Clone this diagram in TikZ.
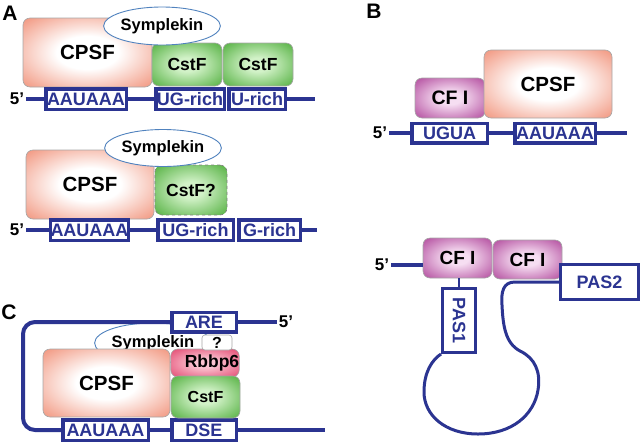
\documentclass[tikz,border=0pt]{standalone}
\usepackage{fontspec}
\setmainfont{Liberation Sans}
\usetikzlibrary{shapes.geometric}
\definecolor{navy}{RGB}{43,52,145}
\definecolor{sympc}{RGB}{80,130,190}
\definecolor{cpsfc}{RGB}{240,138,112}
\definecolor{cstfc}{RGB}{72,170,52}
\definecolor{cstfl}{RGB}{210,242,200}
\definecolor{cfic}{RGB}{172,62,150}
\definecolor{cfil}{RGB}{246,222,242}
\definecolor{rbbc}{RGB}{225,62,105}
\definecolor{rbbl}{RGB}{250,195,208}
\pgfdeclareradialshading{cpsfshade}{\pgfpoint{0bp}{0bp}}{color(0bp)=(white); color(12bp)=(white); color(38bp)=(cpsfc); color(60bp)=(cpsfc)}
\pgfdeclareradialshading{cstfshade}{\pgfpoint{0bp}{0bp}}{color(0bp)=(cstfl); color(8bp)=(cstfl); color(38bp)=(cstfc); color(60bp)=(cstfc)}
\pgfdeclareradialshading{cfishade}{\pgfpoint{0bp}{0bp}}{color(0bp)=(cfil); color(8bp)=(cfil); color(38bp)=(cfic); color(60bp)=(cfic)}
\pgfdeclareradialshading{rbbshade}{\pgfpoint{0bp}{0bp}}{color(0bp)=(rbbl); color(8bp)=(rbbl); color(38bp)=(rbbc); color(60bp)=(rbbc)}
\tikzset{
  sz/.style 2 args={minimum width=#1pt, minimum height=#2pt},
  rna/.style={draw=navy, line width=4pt},
  seqbox/.style={draw=navy, line width=3.5pt, fill=white, text=navy, inner sep=0pt,
    font=\fontsize{18}{18}\selectfont\bfseries},
  prot/.style={draw=gray!70, line width=0.6pt, rounded corners=7pt, inner sep=0pt, shade,
    font=\fontsize{19.5}{19.5}\selectfont\bfseries},
  cpsf/.style={prot, shading=cpsfshade, font=\fontsize{20.5}{20.5}\selectfont\bfseries},
  cstf/.style={prot, shading=cstfshade, font=\fontsize{17.5}{17.5}\selectfont\bfseries},
  cfi/.style={prot, shading=cfishade},
  rbb/.style={prot, shading=rbbshade, font=\fontsize{17.5}{17.5}\selectfont\bfseries},
  symp/.style={ellipse, draw=sympc, line width=0.9pt, fill=white, inner sep=0pt,
    sz={93}{38}, font=\fontsize{16.5}{16.5}\selectfont\bfseries},
  qbox/.style={draw=gray!70, line width=0.6pt, fill=white, rounded corners=3pt, inner sep=0pt,
    font=\fontsize{16}{16}\selectfont\bfseries},
  five/.style={inner sep=2pt, font=\fontsize{17}{17}\selectfont\bfseries},
  panel/.style={inner sep=0pt, font=\fontsize{21}{21}\selectfont\bfseries}
}
\begin{document}
\begin{tikzpicture}[x=1pt,y=-1pt]
\useasboundingbox (0,0) rectangle (642,445);
% A, top
\node[panel] (la) at (10,13) {A};
\node[cpsf, sz={129}{69}] (cpsfa) at (87.5,52.5) {CPSF};
\node[cstf, sz={70}{43}] (cstfa) at (187,64.5) {CstF};
\node[cstf, sz={70}{43}] (cstfb) at (258,64.5) {CstF};
\node[symp] (sympa) at (162,26) {Symplekin};
\node[five] (fa) at (17,99) {5’};
\node[seqbox, sz={80.5}{20.5}] (aaua) at (86,99) {AAUAAA};
\node[seqbox, sz={68.5}{20.5}] (uga) at (190,99) {UG-rich};
\node[seqbox, sz={56.5}{20.5}] (ua) at (257,99) {U-rich};
\coordinate (ea) at (315,99);
\draw[rna] (fa) -- (aaua) (aaua) -- (uga) (ua) -- (ea);
% A, bottom
\node[cpsf, sz={128}{69}] (cpsfb) at (90,184.5) {CPSF};
\node[cstf, dashed, draw=gray, sz={72}{50}] (cstfq) at (191,190) {CstF?};
\node[symp, sz={93}{37}] (sympb) at (163,148) {Symplekin};
\node[five] (fb) at (17,230) {5’};
\node[seqbox, sz={75.5}{20.5}] (aaub) at (89.5,230) {AAUAAA};
\node[seqbox, sz={75.5}{20.5}] (ugb) at (195.5,230) {UG-rich};
\node[seqbox, sz={61.5}{20.5}] (gb) at (269.5,230) {G-rich};
\coordinate (eb) at (317,230);
\draw[rna] (fb) -- (aaub) (aaub) -- (ugb) (gb) -- (eb);
% C
\node[panel] (lc) at (9,312) {C};
\node[symp, sz={93}{40}] (sympc) at (153,343) {Symplekin};
\node[five] (fc) at (286,322) {5’};
\node[seqbox, sz={64.5}{19.5}] (are) at (204,322) {ARE};
\node[seqbox, sz={85.5}{20.5}] (aauc) at (105.5,430) {AAUAAA};
\node[seqbox, sz={64.5}{20.5}] (dse) at (204,430) {DSE};
\coordinate (ctl) at (23,322);
\coordinate (cbl) at (23,430);
\coordinate (ec) at (325,430);
\draw[rna, rounded corners=12pt] (are) -- (ctl) -- (cbl) -- (aauc);
\draw[rna] (fc) -- (are) (aauc) -- (dse) (dse) -- (ec);
\node[cpsf, sz={127}{68}] (cpsfc) at (106.5,383) {CPSF};
\node[rbb, sz={68}{28}] (rbbp) at (205,363) {\hspace*{14pt}\raisebox{-3pt}{Rbbp6}};
\node[cstf, font=\fontsize{16}{16}\selectfont\bfseries, sz={69}{42}] (cstfc) at (205.5,397) {CstF};
\node[qbox, sz={30}{15}] (qm) at (217,342.5) {?};
% B, top
\node[panel] (lb) at (374,11) {B};
\node[cfi, sz={70}{40}] (cfia) at (450,98) {CF I};
\node[cpsf, sz={128}{68}] (cpsfd) at (548,84) {CPSF};
\node[five] (fd) at (380,133) {5’};
\node[seqbox, sz={75.5}{19.5}] (ugua) at (449.5,133) {UGUA};
\node[seqbox, sz={80.5}{19.5}] (aaud) at (555,133) {AAUAAA};
\coordinate (ed) at (627,133);
\draw[rna] (fd) -- (ugua) (ugua) -- (aaud) (aaud) -- (ed);
% B, bottom
\node[cfi, font=\fontsize{19}{19}\selectfont\bfseries, sz={69}{40}] (cfib) at (457.5,258) {CF I};
\node[cfi, font=\fontsize{19}{19}\selectfont\bfseries, sz={69}{39}] (cfic) at (527.5,259.5) {CF I};
\node[five] (fe) at (382,265) {5’};
\draw[rna] (fe) -- (fe -| cfib.west);
\node[seqbox, line width=3pt, rotate=-90, sz={64}{33}] (pas1) at (459,320.5) {PAS1};
\node[seqbox, line width=3pt, sz={78}{35}] (pas2) at (599.5,282) {PAS2};
\draw[navy, line width=2pt] (cfib.south -| pas1.center) -- (pas1.west);
\draw[navy, line width=3pt] (pas2.west) -- (515,282)
  .. controls (503,282) and (501,292) .. (502,305)
  .. controls (503,325) and (505,343) .. (520,351)
  .. controls (535,358) and (541,372) .. (538,390)
  .. controls (534,415) and (512,434) .. (478,434)
  .. controls (445,434) and (424,415) .. (424,392)
  .. controls (424,372) and (432,360) .. (pas1.south east);
\end{tikzpicture}
\end{document}
